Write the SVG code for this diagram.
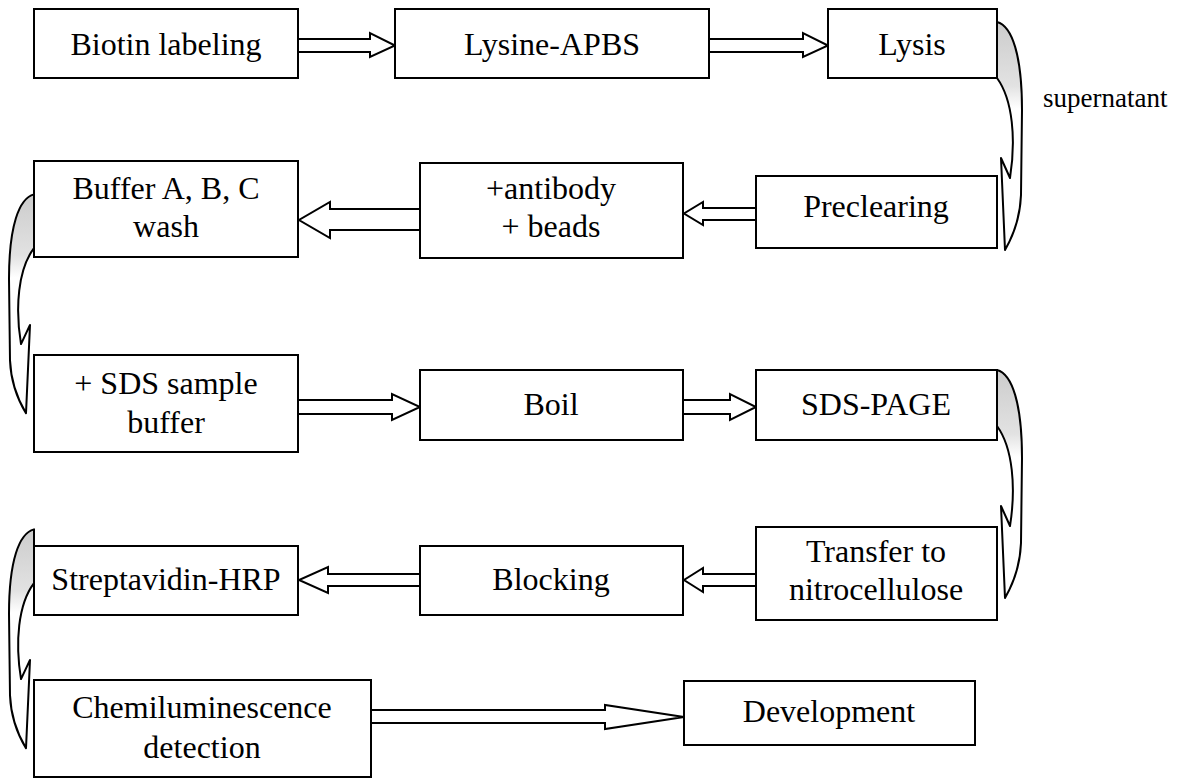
<svg xmlns="http://www.w3.org/2000/svg" width="1183" height="778" viewBox="0 0 1183 778">
<style>
.box{fill:#fff;stroke:#000;stroke-width:2}
.t{font-family:'Liberation Serif','Times New Roman',Times,'DejaVu Serif',serif;font-size:32px;fill:#000;text-anchor:middle}
.s{font-family:'Liberation Serif','Times New Roman',Times,'DejaVu Serif',serif;font-size:27px;fill:#000}
.arr{fill:#fff;stroke:#000;stroke-width:2;stroke-linejoin:miter}
.crv{fill:url(#stip);stroke:#000;stroke-width:2;stroke-linejoin:round}
</style>
<defs>
<linearGradient id="stip" x1="0" y1="0" x2="0" y2="1">
<stop offset="0" stop-color="#ccc"/>
<stop offset="0.28" stop-color="#e2e2e2"/>
<stop offset="0.38" stop-color="#fff"/>
<stop offset="1" stop-color="#fff"/>
</linearGradient>
<path id="curve" d="M0,-8 C15,-4 25,25 25,80 L24,165 C23,190 15,208 8,220 L4,128 L13,148 C19,110 16,70 0,48 Z"/>
</defs>

<g id="connectors">
<path class="arr" d="M298,39 H370 V33 L395,45.5 L370,57 V52 H298 Z"/>
<path class="arr" d="M709,39 H803 V33 L828,45.5 L803,57 V52 H709 Z"/>
<path class="arr" d="M756,208 H703 V202 L684,213.5 L703,225 V220 H756 Z"/>
<path class="arr" d="M420,209 H330 V202 L299,220 L330,238 V230 H420 Z"/>
<path class="arr" d="M298,400 H392 V394 L420,407 L392,420 V414 H298 Z"/>
<path class="arr" d="M683,400 H730 V394 L756,407 L730,420 V414 H683 Z"/>
<path class="arr" d="M756,574 H703 V568 L684,580 L703,592 V586 H756 Z"/>
<path class="arr" d="M420,574 H328 V567 L299,580 L328,593 V586 H420 Z"/>
<path class="arr" d="M371,710 H605 V705 L684,717 L605,729 V723 H371 Z"/>
<use href="#curve" class="crv" transform="translate(997,30)"/>
<use href="#curve" class="crv" transform="translate(997,378)"/>
<use href="#curve" class="crv" transform="translate(34,202) scale(-1,0.96)"/>
<use href="#curve" class="crv" transform="translate(34,537) scale(-1,0.96)"/>
<text class="s" x="1043" y="107">supernatant</text>
</g>

<g id="n1"><rect class="box" x="34" y="9" width="264" height="69"/><text class="t" x="166" y="55">Biotin labeling</text></g>
<g id="n2"><rect class="box" x="395" y="9" width="314" height="69"/><text class="t" x="552" y="55">Lysine-APBS</text></g>
<g id="n3"><rect class="box" x="828" y="9" width="169" height="69"/><text class="t" x="912" y="55">Lysis</text></g>

<g id="n4"><rect class="box" x="34" y="161" width="264" height="96"/><text class="t" x="166" y="199">Buffer A, B, C</text><text class="t" x="166" y="237">wash</text></g>
<g id="n5"><rect class="box" x="420" y="163" width="263" height="95"/><text class="t" x="551" y="199">+antibody</text><text class="t" x="551" y="237">+ beads</text></g>
<g id="n6"><rect class="box" x="756" y="176" width="241" height="72"/><text class="t" x="876" y="217">Preclearing</text></g>

<g id="n7"><rect class="box" x="34" y="355" width="264" height="97"/><text class="t" x="166" y="394">+ SDS sample</text><text class="t" x="166" y="433">buffer</text></g>
<g id="n8"><rect class="box" x="420" y="370" width="263" height="70"/><text class="t" x="551" y="415">Boil</text></g>
<g id="n9"><rect class="box" x="756" y="370" width="241" height="70"/><text class="t" x="876" y="415">SDS-PAGE</text></g>

<g id="n10"><rect class="box" x="34" y="546" width="264" height="69"/><text class="t" x="166" y="590">Streptavidin-HRP</text></g>
<g id="n11"><rect class="box" x="420" y="546" width="263" height="69"/><text class="t" x="551" y="590">Blocking</text></g>
<g id="n12"><rect class="box" x="756" y="527" width="241" height="93"/><text class="t" x="876" y="562">Transfer to</text><text class="t" x="876" y="600">nitrocellulose</text></g>

<g id="n13"><rect class="box" x="34" y="680" width="337" height="97"/><text class="t" x="202" y="718">Chemiluminescence</text><text class="t" x="202" y="758">detection</text></g>
<g id="n14"><rect class="box" x="684" y="681" width="291" height="64"/><text class="t" x="829" y="722">Development</text></g>
</svg>
